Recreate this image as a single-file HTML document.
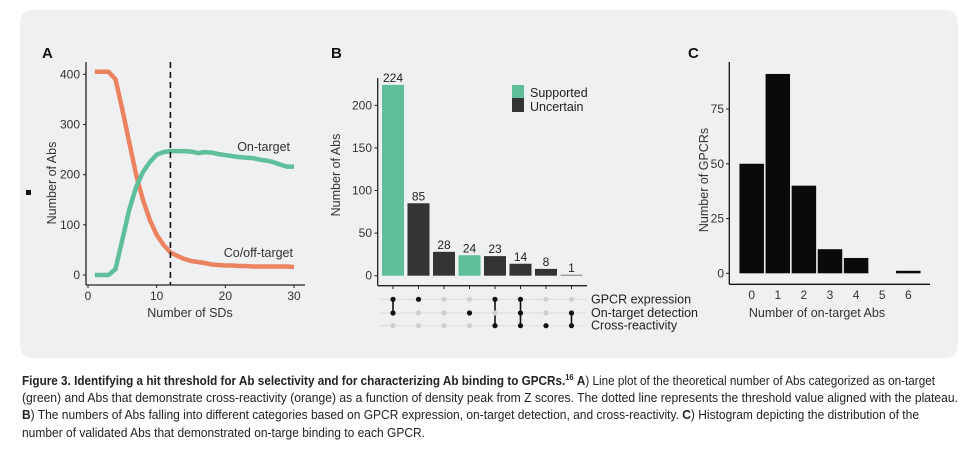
<!DOCTYPE html>
<html><head><meta charset="utf-8"><style>
html,body{margin:0;padding:0;background:#fff;}
body{width:975px;height:455px;overflow:hidden;position:relative;font-family:"Liberation Sans",sans-serif;}
svg text{font-family:"Liberation Sans",sans-serif;}
</style></head><body>
<svg id="fig" width="975" height="455" viewBox="0 0 975 455" xmlns="http://www.w3.org/2000/svg">
<rect x="20" y="10" width="938" height="348" rx="12" fill="#eef0f2"/>
<rect x="26" y="190" width="5" height="5" fill="#111"/>
<g id="pA"></g>
<g id="pB"></g>
<g id="pC"></g>
<g font-family="Liberation Sans Narrow, Liberation Sans, sans-serif" font-size="12.5" fill="#222">
<text x="22" y="385" textLength="913" lengthAdjust="spacingAndGlyphs"><tspan font-weight="bold">Figure 3. Identifying a hit threshold for Ab selectivity and for characterizing Ab binding to GPCRs.</tspan><tspan font-weight="bold" font-size="8" dy="-5">16</tspan><tspan dy="5"> </tspan><tspan font-weight="bold">A</tspan>) Line plot of the theoretical number of Abs categorized as on-target</text>
<text x="22" y="402" textLength="936" lengthAdjust="spacingAndGlyphs">(green) and Abs that demonstrate cross-reactivity (orange) as a function of density peak from Z scores. The dotted line represents the threshold value aligned with the plateau.</text>
<text x="22" y="419" textLength="897" lengthAdjust="spacingAndGlyphs"><tspan font-weight="bold">B</tspan>) The numbers of Abs falling into different categories based on GPCR expression, on-target detection, and cross-reactivity. <tspan font-weight="bold">C</tspan>) Histogram depicting the distribution of the</text>
<text x="22" y="437" textLength="403" lengthAdjust="spacingAndGlyphs">number of validated Abs that demonstrated on-targe binding to each GPCR.</text>
</g>
</svg>
<script>
// ---- Panel A data ----
const sdValues = [1,2,3,4,5,6,7,8,9,10,11,12,13,14,15,16,17,18,19,20,21,22,23,24,25,26,27,28,29,30];
const onTarget = [0,0,0,12,70,130,175,205,225,240,245,247,247,247,246,243,245,244,241,239,237,235,234,233,230,228,225,220,216,216];
const offTarget = [405,405,405,390,330,265,200,150,110,80,60,45,38,32,28,26,24,21,20,19,19,18,18,17,17,17,17,17,17,16];
const thresholdSD = 12;
const aXTicks = [0,10,20,30];
const aYTicks = [0,100,200,300,400];
// ---- Panel B data ----
const bValues = [224,85,28,24,23,14,8,1];
const bSupported = [true,false,false,true,false,false,false,false];
const bSetNames = ["GPCR expression","On-target detection","Cross-reactivity"];
const bMembership = [[1,1,0],[1,0,0],[0,0,0],[0,1,0],[1,0,1],[1,1,1],[0,0,1],[0,1,1]];
const bYTicks = [0,50,100,150,200];
// ---- Panel C data ----
const cCategories = [0,1,2,3,4,5,6];
const cValues = [50,91,40,11,7,0,1];
const cYTicks = [0,25,50,75];

const NS="http://www.w3.org/2000/svg";
function mk(parent,tag,attrs,text){const e=document.createElementNS(NS,tag);for(const k in attrs)e.setAttribute(k,attrs[k]);if(text!==undefined)e.textContent=text;parent.appendChild(e);return e;}
const TF=12, LF=12.5;

// Panel A
(function(){
const g=document.getElementById('pA');
const x=v=>88+(v-0)*(294-88)/30;
const y=v=>275-v*(275-74.3)/400;
let t=mk(g,'text',{x:42,y:58,'font-size':15,'font-weight':'bold',fill:'#111'},'A');


let l=mk(g,'line',{x1:86,y1:62,x2:86,y2:285,stroke:'#222','stroke-width':1.3});


l=mk(g,'line',{x1:86,y1:285,x2:305,y2:285,stroke:'#222','stroke-width':1.3});


aYTicks.forEach(v=>{
 const tk=mk(g,'line',{x1:83,x2:86,y1:y(v),y2:y(v),stroke:'#222'});
 
 
 const tl=mk(g,'text',{x:80,y:y(v)+4,'text-anchor':'end','font-size':TF,fill:'#333'},v);
 
 
});
aXTicks.forEach(v=>{
 const tk=mk(g,'line',{x1:x(v),x2:x(v),y1:285,y2:288,stroke:'#222'});
 
 
 const tl=mk(g,'text',{x:x(v),y:300,'text-anchor':'middle','font-size':TF,fill:'#333'},v);
 
 
});
t=mk(g,'text',{x:190,y:317,'text-anchor':'middle','font-size':LF,fill:'#333'},'Number of SDs');


t=mk(g,'text',{x:0,y:0,'text-anchor':'middle','font-size':LF,fill:'#333',transform:'translate(56,183) rotate(-90)'},'Number of Abs');


const pts=a=>sdValues.map((s,i)=>x(s).toFixed(1)+','+y(a[i]).toFixed(1)).join(' ');
let p=mk(g,'polyline',{points:pts(offTarget),fill:'none',stroke:'#ec8360','stroke-width':4.5,'stroke-linejoin':'round'});


p=mk(g,'polyline',{points:pts(onTarget),fill:'none',stroke:'#5fbf9a','stroke-width':4.5,'stroke-linejoin':'round'});


l=mk(g,'line',{x1:x(thresholdSD),x2:x(thresholdSD),y1:62,y2:285,stroke:'#111','stroke-width':1.6,'stroke-dasharray':'6,4'});


t=mk(g,'text',{x:290,y:151,'text-anchor':'end','font-size':LF,fill:'#333'},'On-target');


t=mk(g,'text',{x:293,y:257,'text-anchor':'end','font-size':LF,fill:'#333'},'Co/off-target');


})();

// Panel B
(function(){
const g=document.getElementById('pB');
const y=v=>275.7-v*(275.7-105.3)/200;
const cx=i=>393+i*25.5;
const bw=22;
let t=mk(g,'text',{x:331,y:58,'font-size':15,'font-weight':'bold',fill:'#111'},'B');


let l=mk(g,'line',{x1:377.7,y1:78,x2:377.7,y2:285.7,stroke:'#222','stroke-width':1.3});


l=mk(g,'line',{x1:377.7,y1:285.7,x2:587,y2:285.7,stroke:'#222','stroke-width':1.3});


bYTicks.forEach(v=>{
 const tk=mk(g,'line',{x1:374.5,x2:377.7,y1:y(v),y2:y(v),stroke:'#222'});
 
 
 const tl=mk(g,'text',{x:372,y:y(v)+4,'text-anchor':'end','font-size':TF,fill:'#333'},v);
 
 
});
t=mk(g,'text',{x:0,y:0,'text-anchor':'middle','font-size':LF,fill:'#333',transform:'translate(340,175) rotate(-90)'},'Number of Abs');


const rowY=[299.3,313,325.7];
rowY.forEach((ry,r)=>{
 const gl=mk(g,'line',{x1:380,x2:586,y1:ry,y2:ry,stroke:'#dcdcdc','stroke-width':1});
 
 
 const tl=mk(g,'text',{x:591,y:ry+4,'font-size':LF,fill:'#222'},bSetNames[r]);
 
 
});
bValues.forEach((v,i)=>{
 const c=cx(i);
 const tk=mk(g,'line',{x1:c,x2:c,y1:285.7,y2:289,stroke:'#222'});
 
 
 const h=Math.max(275.7-y(v),1);
 const b=mk(g,'rect',{x:c-bw/2,y:275.7-h,width:bw,height:h,fill:bSupported[i]?'#5fbf9a':(v<=1?'#777':'#333')});
 
 
 const vl=mk(g,'text',{x:c,y:y(v)-3,'text-anchor':'middle','font-size':TF,fill:'#222'},v);
 
 
 const mem=bMembership[i];
 const on=rowY.filter((ry,r)=>mem[r]);
 if(on.length>1){
  const cl=mk(g,'line',{x1:c,x2:c,y1:Math.min(...on),y2:Math.max(...on),stroke:'#111','stroke-width':1.6});
  
  
 }
 rowY.forEach((ry,r)=>{
  const d=mk(g,'circle',{cx:c,cy:ry,r:2.6,fill:mem[r]?'#111':'#cfcfcf'});
  
  
 });
});
let s=mk(g,'rect',{x:512,y:85,width:12,height:13,fill:'#5fbf9a'});


s=mk(g,'rect',{x:512,y:98,width:12,height:14,fill:'#333'});


t=mk(g,'text',{x:530,y:97,'font-size':LF,fill:'#222'},'Supported');


t=mk(g,'text',{x:530,y:111,'font-size':LF,fill:'#222'},'Uncertain');


})();

// Panel C
(function(){
const g=document.getElementById('pC');
const y=v=>273.3-v*(273.3-109)/75;
const cx=c=>751.7+c*26.1;
const bw=24.5;
let t=mk(g,'text',{x:688,y:58,'font-size':15,'font-weight':'bold',fill:'#111'},'C');


let l=mk(g,'line',{x1:729.3,y1:62,x2:729.3,y2:284.3,stroke:'#111','stroke-width':1.3});


l=mk(g,'line',{x1:729.3,y1:284.3,x2:930,y2:284.3,stroke:'#111','stroke-width':1.3});


cYTicks.forEach(v=>{
 const tk=mk(g,'line',{x1:726,x2:729.3,y1:y(v),y2:y(v),stroke:'#222'});
 
 
 const tl=mk(g,'text',{x:724,y:y(v)+4,'text-anchor':'end','font-size':TF,fill:'#333'},v);
 
 
});
cCategories.forEach((c,i)=>{
 const tl=mk(g,'text',{x:cx(c),y:299,'text-anchor':'middle','font-size':TF,fill:'#333'},c);
 
 
 const v=cValues[i];
 if(v>0){
  const h=Math.max(273.3-y(v),2.5);
  const b=mk(g,'rect',{x:cx(c)-bw/2,y:273.3-h,width:bw,height:h,fill:'#0a0a0a'});
  
  
 }
});
t=mk(g,'text',{x:817,y:317,'text-anchor':'middle','font-size':LF,fill:'#333'},'Number of on-target Abs');


t=mk(g,'text',{x:0,y:0,'text-anchor':'middle','font-size':LF,fill:'#333',transform:'translate(708,180) rotate(-90)'},'Number of GPCRs');


})();
</script>
</body></html>
